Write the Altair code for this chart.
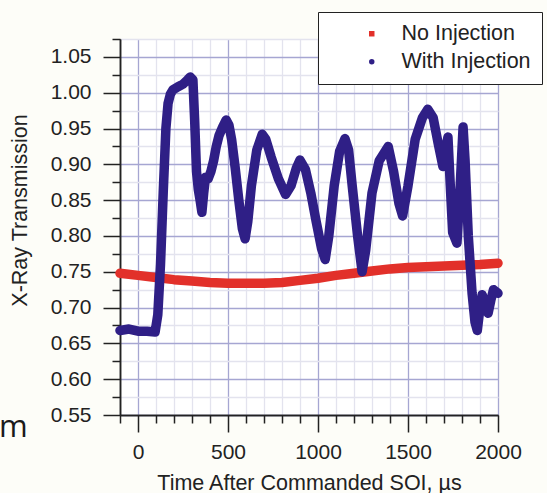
import altair as alt
import pandas as pd

# ---- data ----
no_inj_t = [-100, 0, 100, 200, 300, 400, 500, 600, 700, 800, 900, 1000,
            1100, 1200, 1300, 1400, 1500, 1600, 1700, 1800, 1900, 2000]
no_inj_y = [0.748, 0.745, 0.742, 0.739, 0.737, 0.735, 0.734, 0.734, 0.734, 0.735,
            0.738, 0.741, 0.745, 0.748, 0.751, 0.754, 0.756, 0.757, 0.758, 0.759,
            0.760, 0.762]

with_inj_t = [-100, -50, 0, 50, 95, 110, 125, 140, 155, 167, 180, 194, 220, 250, 275,
              290, 305, 315, 325, 335, 345, 355, 365, 375, 390, 405, 420, 435, 450,
              470, 490, 505, 520, 540, 560, 580, 595, 610, 630, 660, 690, 710, 740,
              780, 820, 850, 880, 900, 930, 960, 990, 1020, 1040, 1060, 1090, 1120,
              1150, 1170, 1190, 1220, 1245, 1265, 1300, 1340, 1390, 1420, 1450, 1470,
              1500, 1540, 1580, 1610, 1640, 1667, 1694, 1708, 1722, 1735, 1748, 1772,
              1788, 1806, 1817, 1835, 1856, 1872, 1885, 1900, 1912, 1930, 1945, 1960,
              1975, 2000]
with_inj_y = [0.668, 0.670, 0.667, 0.667, 0.666, 0.690, 0.760, 0.860, 0.950, 0.985,
              0.998, 1.004, 1.008, 1.012, 1.018, 1.022, 1.018, 0.960, 0.890, 0.865,
              0.850, 0.833, 0.860, 0.882, 0.880, 0.890, 0.905, 0.925, 0.940, 0.952,
              0.962, 0.955, 0.935, 0.895, 0.850, 0.810, 0.796, 0.820, 0.870, 0.920,
              0.942, 0.935, 0.910, 0.880, 0.858, 0.870, 0.895, 0.906, 0.893, 0.860,
              0.820, 0.782, 0.767, 0.800, 0.870, 0.918, 0.936, 0.920, 0.870, 0.800,
              0.750, 0.780, 0.860, 0.905, 0.925, 0.890, 0.845, 0.828, 0.870, 0.935,
              0.965, 0.977, 0.965, 0.930, 0.897, 0.920, 0.938, 0.870, 0.805, 0.790,
              0.860, 0.952, 0.906, 0.800, 0.720, 0.680, 0.668, 0.700, 0.718, 0.700,
              0.692, 0.710, 0.725, 0.720]

series_names = ["No Injection", "With Injection"]
series_colors = ["#e2302a", "#2f1f86"]
series_shapes = ["square", "circle"]

x_major_ticks = [0, 500, 1000, 1500, 2000]
x_minor_ticks = [-100, 100, 200, 300, 400, 600, 700, 800, 900, 1100, 1200, 1300,
                 1400, 1600, 1700, 1800, 1900]
y_major_ticks = [0.55, 0.60, 0.65, 0.70, 0.75, 0.80, 0.85, 0.90, 0.95, 1.00, 1.05]
y_minor_ticks = [0.575, 0.625, 0.675, 0.725, 0.775, 0.825, 0.875, 0.925, 0.975,
                 1.025, 1.075]

df = pd.concat([
    pd.DataFrame({"t": no_inj_t, "v": no_inj_y, "s": series_names[0], "o": range(len(no_inj_t))}),
    pd.DataFrame({"t": with_inj_t, "v": with_inj_y, "s": series_names[1], "o": range(len(with_inj_t))}),
])

FONT = "Liberation Sans"
INK = "#222222"
x_scale = alt.Scale(domain=[-100, 2000], nice=False, zero=False)
y_scale = alt.Scale(domain=[0.55, 1.075], nice=False, zero=False)

common = dict(domainColor=INK, domainWidth=1.5, tickColor=INK, tickWidth=1.5,
              gridWidth=1.3, grid=True, gridOpacity=1)

x_minor = alt.X("t:Q", scale=x_scale, axis=alt.Axis(
    orient="bottom", values=x_minor_ticks, labels=False, title=None,
    tickSize=8, gridColor="#e3e3ee", **common))
y_minor = alt.Y("v:Q", scale=y_scale, axis=alt.Axis(
    orient="left", values=y_minor_ticks, labels=False, title=None,
    tickSize=8, gridColor="#e3e3ee", **common))

x_major = alt.X("t:Q", scale=x_scale, axis=alt.Axis(
    orient="bottom", values=x_major_ticks, format="d",
    title="Time After Commanded SOI, \u00b5s",
    tickSize=17, gridColor="#a6a6d2",
    labelPadding=9, labelFontSize=21, labelFont=FONT, labelColor=INK, labelFlush=False,
    titleFont=FONT, titleFontSize=21.5, titleFontWeight="normal", titleColor=INK,
    titleBaseline="middle", titleY=68, **common))
y_major = alt.Y("v:Q", scale=y_scale, axis=alt.Axis(
    orient="left", values=y_major_ticks, format=".2f",
    title="X-Ray Transmission",
    tickSize=17, gridColor="#a6a6d2",
    labelPadding=12, labelFontSize=21, labelFont=FONT, labelColor=INK, labelFlush=False,
    titleFont=FONT, titleFontSize=21.5, titleFontWeight="normal", titleColor=INK,
    titleAngle=270, titleBaseline="middle", titleX=-100, titleY=171, **common))

color_scale = alt.Scale(domain=series_names, range=series_colors)
shape_scale = alt.Scale(domain=series_names, range=series_shapes)

legend_kw = dict(title=None, orient="none", legendX=198, legendY=-27,
                 strokeColor=INK, fillColor="white", padding=11,
                 symbolOffset=32, labelOffset=19, rowPadding=5, symbolSize=30,
                 labelFont=FONT, labelFontSize=21.5, labelColor=INK,
                 symbolStrokeWidth=0)

base = alt.Chart(df)

# hidden under the thick lines; they carry the legend symbols
points = base.mark_point(filled=True, size=30, opacity=1).encode(
    x=x_minor, y=y_minor,
    color=alt.Color("s:N", scale=color_scale, legend=alt.Legend(**legend_kw)),
    shape=alt.Shape("s:N", scale=shape_scale, legend=alt.Legend(**legend_kw)),
)

lines = base.mark_line(strokeWidth=9.5, strokeJoin="round", strokeCap="round").encode(
    x=x_major, y=y_major,
    color=alt.Color("s:N", scale=color_scale, legend=None),
    detail="s:N",
    order="o:Q",
)

stray = alt.Chart(pd.DataFrame({"txt": ["m"]})).mark_text(
    align="left", baseline="alphabetic", font="Open Sans", fontSize=31, color="#1a1a1a"
).encode(text="txt:N", x=alt.value(-121), y=alt.value(398))

chart = alt.layer(points, lines, stray).resolve_axis(
    x="independent", y="independent"
).properties(
    width=378, height=376,
    autosize=alt.AutoSizeParams(type="none"),
    padding={"left": 120, "top": 39, "right": 49, "bottom": 78},
    background="#fdfdf8",
).configure_view(fill="white", stroke=None)

chart.save("out.html", embed_options={"renderer": "svg", "actions": False})
